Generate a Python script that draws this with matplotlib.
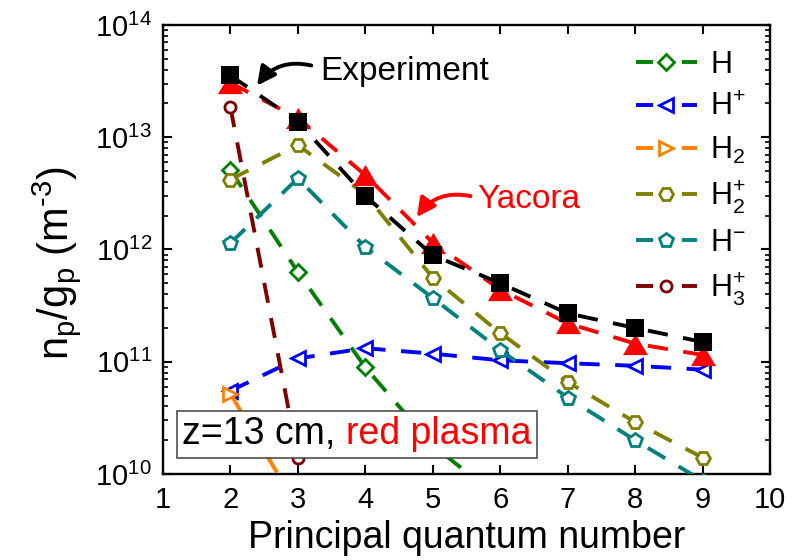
import matplotlib
matplotlib.use('Agg')
import matplotlib.pyplot as plt
from matplotlib.ticker import NullLocator, LogLocator, FixedLocator
from matplotlib.offsetbox import TextArea, HPacker, AnchoredOffsetbox
from matplotlib.path import Path
from matplotlib.lines import Line2D

plt.rcParams['font.family'] = ['Liberation Sans', 'DejaVu Sans']
plt.rcParams['mathtext.fontset'] = 'custom'
plt.rcParams['mathtext.rm'] = 'Liberation Sans'
plt.rcParams['mathtext.it'] = 'Liberation Sans'
plt.rcParams['mathtext.bf'] = 'Liberation Sans:bold'

# ---------------- data ----------------
n_levels = [2, 3, 4, 5, 6, 7, 8, 9]
experiment = [3.55e13, 1.38e13, 3.0e12, 8.9e11, 5.0e11, 2.7e11, 2.0e11, 1.5e11]
yacora = [3.05e13, 1.48e13, 4.6e12, 1.15e12, 4.4e11, 2.2e11, 1.45e11, 1.15e11]

n_H = [2, 3, 4, 5, 6]
dens_H = [5.1e12, 6.3e11, 8.9e10, 1.8e10, 6.0e9]

n_Hp = [2, 3, 4, 5, 6, 7, 8, 9]
dens_Hp = [5.5e10, 1.07e11, 1.32e11, 1.18e11, 1.03e11, 9.7e10, 9.2e10, 8.5e10]

n_H2 = [2, 3]
dens_H2 = [5.2e10, 5.0e9]

n_H2p = [2, 3, 4, 5, 6, 7, 8, 9]
dens_H2p = [4.2e12, 8.5e12, 3.1e12, 5.6e11, 1.8e11, 6.6e10, 2.9e10, 1.4e10]

n_Hm = [2, 3, 4, 5, 6, 7, 8, 9]
dens_Hm = [1.14e12, 4.3e12, 1.05e12, 3.7e11, 1.27e11, 4.8e10, 2.0e10, 8.7e9]

n_H3p = [2, 3]
dens_H3p = [1.85e13, 1.4e10]

species_labels = ['H', 'H$^{+}$', 'H$_{2}$', 'H$_{2}^{+}$', 'H$^{-}$', 'H$_{3}^{+}$']
x_ticks = [1, 2, 3, 4, 5, 6, 7, 8, 9, 10]

# ---------------- figure ----------------
fig = plt.figure(figsize=(8.1, 5.6), dpi=100)
ax = fig.add_axes([0.2012, 0.1536, 0.7494, 0.8018])

LW = 2.8
DASH = (5.2, 4.0)
MEW = 2.0

tri_up = Path([(-1, -0.85), (1, -0.85), (0, 0.85), (-1, -0.85)],
              [Path.MOVETO, Path.LINETO, Path.LINETO, Path.CLOSEPOLY])

series = [
    (n_H, dens_H, '#008000', 'D', 8.5),
    (n_Hp, dens_Hp, '#0000ff', '<', 10.5),
    (n_H2, dens_H2, '#ff8000', '>', 10.5),
    (n_H2p, dens_H2p, '#808000', 'H', 10.0),
    (n_Hm, dens_Hm, '#008080', 'p', 10.5),
    (n_H3p, dens_H3p, '#800000', 'o', 8.0),
]
handles = []
for (xs, ys, col, mk, ms), lab in zip(series, species_labels):
    ax.plot(xs, ys, color=col, lw=LW, dashes=DASH, marker=mk, ms=ms,
            mfc='white', mec=col, mew=MEW, zorder=3)
    handles.append(Line2D([], [], color=col, lw=LW, dashes=(4.4, 7.4),
                          marker=mk, ms=ms, mfc='white', mec=col, mew=MEW,
                          label=lab))

ax.plot(n_levels, yacora, color='#ff0000', lw=LW, dashes=DASH, marker=tri_up,
        ms=18, mfc='#ff0000', mec='#ff0000', mew=0, zorder=4)
ax.plot(n_levels, experiment, color='black', lw=LW, dashes=DASH, marker='s',
        ms=13.5, mfc='black', mec='black', mew=0, zorder=5)

ax.set_yscale('log')
ax.set_xlim(1, 10)
ax.set_ylim(1e10, 1e14)
ax.xaxis.set_major_locator(FixedLocator(x_ticks))
ax.xaxis.set_minor_locator(NullLocator())
ax.yaxis.set_major_locator(LogLocator(base=10, numticks=10))
ax.yaxis.set_minor_locator(LogLocator(base=10, subs=range(2, 10), numticks=20))

for sp in ax.spines.values():
    sp.set_linewidth(1.7)
ax.tick_params(which='both', direction='in', top=True, right=True)
ax.tick_params(which='major', length=6.5, width=1.5, labelsize=21)
ax.tick_params(which='minor', length=3.6, width=1.2)
ax.tick_params(axis='x', which='major', pad=9)
ax.tick_params(axis='y', which='major', pad=8)

ax.set_xlabel('Principal quantum number', fontsize=27, labelpad=4)
ax.set_ylabel(r'n$_{p}$/g$_{p}$ (m$^{\text{-3}}$)', fontsize=30)
ax.yaxis.set_label_coords(-0.132, 0.47)

leg = ax.legend(handles=handles, loc='upper left', bbox_to_anchor=(0.779, 0.945),
                frameon=False, fontsize=22, handlelength=2.0, handletextpad=0.43,
                labelspacing=0.41, borderpad=0, borderaxespad=0, numpoints=1)

# annotations
ax.annotate('', xy=(2.37, 2.75e13), xytext=(3.24, 4.3e13),
            arrowprops=dict(arrowstyle='-|>', connectionstyle='arc3,rad=0.35',
                            color='black', lw=2.8, mutation_scale=28), zorder=6)
ax.text(3.33, 3.24e13, 'Experiment', fontsize=24, color='black',
        ha='left', va='baseline', zorder=6)
ax.annotate('', xy=(4.74, 1.85e12), xytext=(5.6, 2.95e12),
            arrowprops=dict(arrowstyle='-|>', connectionstyle='arc3,rad=0.35',
                            color='#ff0000', lw=2.8, mutation_scale=28), zorder=6)
ax.text(5.66, 2.34e12, 'Yacora', fontsize=24, color='#ff0000',
        ha='left', va='baseline', zorder=6)

# condition box
t1 = TextArea('z=13 cm,', textprops=dict(color='black', fontsize=27))
t2 = TextArea('red plasma', textprops=dict(color='#ff0000', fontsize=27))
pack = HPacker(children=[t1, t2], pad=0, sep=7, align='baseline')
box = AnchoredOffsetbox(loc='lower left', child=pack, pad=0.4, borderpad=0,
                        frameon=True, bbox_to_anchor=(0.023, 0.036),
                        bbox_transform=ax.transAxes, prop=dict(size=10))
box.patch.set_boxstyle('square,pad=0')
box.patch.set_edgecolor('#404040')
box.patch.set_linewidth(1.1)
box.patch.set_facecolor('white')
box.set_zorder(7)
ax.add_artist(box)

fig.savefig('out.png', dpi=100)
